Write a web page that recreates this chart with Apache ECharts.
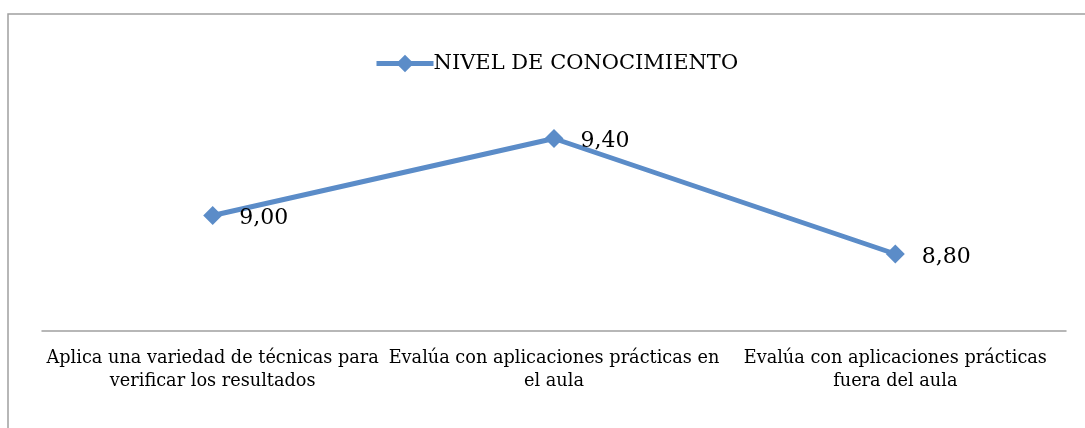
<!DOCTYPE html>
<html>
<head>
<meta charset="utf-8">
<script src="https://cdn.jsdelivr.net/npm/echarts@6/dist/echarts.min.js"></script>
<style>
  html, body { margin: 0; padding: 0; background: #fff; }
  #myChart { width: 1085px; height: 428px; }
</style>
</head>
<body>
<div id="myChart"></div>
<script>
// datos del gráfico
var categorias = [
  'Aplica una variedad de técnicas para\nverificar los resultados',
  'Evalúa con aplicaciones prácticas en\nel aula',
  'Evalúa con aplicaciones prácticas\nfuera del aula'
]
var nivel = [9.00, 9.40, 8.80]
var serieNombre = 'NIVEL DE CONOCIMIENTO'

var azul = '#5b8cc8'
var fuente = 'DejaVu Serif'

var myChart = echarts.init(document.getElementById('myChart'))
myChart.setOption({
  animation: false,
  graphic: [
    {
      type: 'rect',
      shape: { x: 8, y: 14, width: 1200, height: 600 },
      style: { fill: 'none', stroke: '#a0a0a0', lineWidth: 1.5 }
    }
  ],
  legend: {
    top: 48,
    left: 369,
    itemWidth: 57,
    itemHeight: 22,
    itemGap: 0,
    data: [serieNombre],
    lineStyle: { width: 5 },
    textStyle: { fontFamily: fuente, fontSize: 21, color: '#000', padding: [0, 0, 0, -5] }
  },
  grid: {
    left: 42,
    right: 19,
    top: 100,
    bottom: 97
  },
  xAxis: {
    type: 'category',
    data: categorias,
    boundaryGap: true,
    axisTick: { show: false },
    axisLine: { lineStyle: { color: '#a0a0a0', width: 1.5 } },
    axisLabel: {
      interval: 0,
      margin: 16,
      fontFamily: fuente,
      fontSize: 17.7,
      lineHeight: 23,
      color: '#000'
    }
  },
  yAxis: {
    type: 'value',
    min: 8.4,
    max: 9.6,
    show: false,
    splitLine: { show: false }
  },
  series: [
    {
      name: serieNombre,
      type: 'line',
      data: nivel,
      symbol: 'diamond',
      symbolSize: 19,
      lineStyle: { color: azul, width: 5 },
      itemStyle: { color: azul },
      label: {
        show: true,
        position: 'right',
        distance: 17,
        offset: [0, 3],
        fontFamily: fuente,
        fontSize: 22,
        color: '#000',
        formatter: function (p) {
          return p.value.toFixed(2).replace('.', ',')
        }
      }
    }
  ]
})
</script>
</body>
</html>
